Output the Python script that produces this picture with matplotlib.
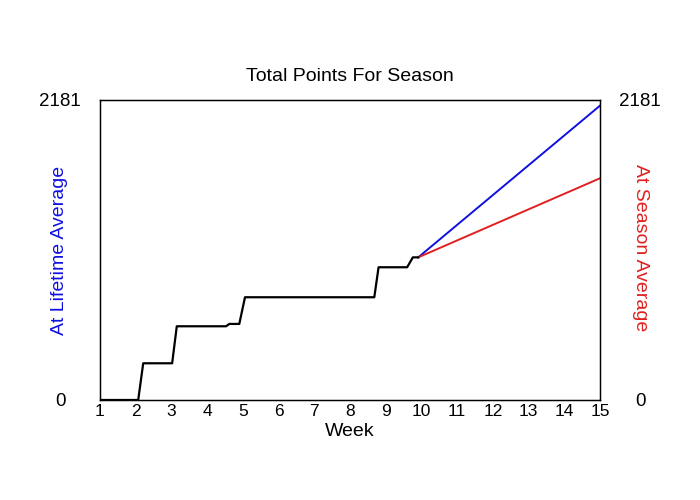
import matplotlib
matplotlib.use("Agg")
import matplotlib.pyplot as plt

plt.rcParams['font.family'] = ['Liberation Sans', 'DejaVu Sans']

# Data
actual_weeks = [1, 2.07, 2.21, 3.02, 3.15, 4.53, 4.62, 4.90, 5.06, 8.68, 8.80, 9.60, 9.76, 9.91]
actual_points = [0, 0, 267, 267, 536, 536, 553, 553, 747, 747, 965, 965, 1037, 1037]
proj_weeks = [9.91, 15]
lifetime_proj = [1037, 2140]
season_proj = [1037, 1612]
x_ticks = list(range(1, 16))
y_max = 2181
title = "Total Points For Season"

fig = plt.figure(figsize=(7, 5), dpi=100)
ax = fig.add_axes([100/700, 0.2, 500/700, 0.6])

ax.plot(proj_weeks, lifetime_proj, color='#1010e0', lw=1.4)
ax.plot(proj_weeks, season_proj, color='#e02020', lw=1.4)
ax.plot(actual_weeks, actual_points, color='black', lw=1.6)

ax.set_xlim(1, 15)
ax.set_ylim(0, y_max)
ax.set_xticks(x_ticks)
ax.set_xticklabels([str(t) for t in x_ticks], fontsize=12.5)
ax.tick_params(axis='x', length=0, pad=3)
ax.set_yticks([0, y_max])
ax.set_yticklabels(['0', str(y_max)], fontsize=13.5, ha='center')
ax.tick_params(axis='y', length=0, pad=28.8)
for s in ax.spines.values():
    s.set_linewidth(1.0)

ax2 = ax.twinx()
ax2.set_ylim(0, y_max)
ax2.set_yticks([0, y_max])
ax2.set_yticklabels(['0', str(y_max)], fontsize=13.5, ha='center')
ax2.tick_params(axis='y', length=0, pad=28.8)

ax.set_title(title, fontsize=14, pad=14)
ax.set_xlabel("Week", fontsize=14, labelpad=3)

fig.text(60/700, 1 - 250/500, "At Lifetime Average", color='#1010e0', fontsize=14,
         rotation=90, ha='center', va='center')
fig.text(640/700, 1 - 248/500, "At Season Average", color='#e02020', fontsize=14,
         rotation=-90, ha='center', va='center')

fig.savefig("out.png", dpi=100)
